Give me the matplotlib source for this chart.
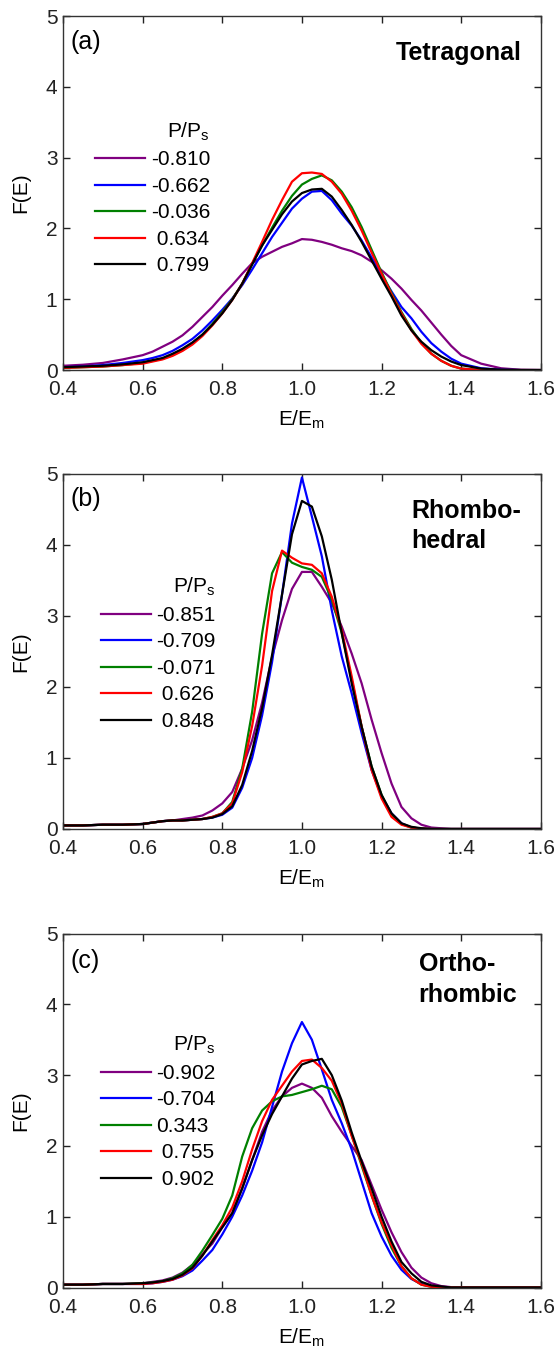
import matplotlib
matplotlib.use("Agg")
import matplotlib.pyplot as plt

plt.rcParams['font.family'] = ['Liberation Sans', 'DejaVu Sans']
plt.rcParams['mathtext.default'] = 'regular'

# E/Em grid shared by all curves
E = [0.40, 0.45, 0.50, 0.55, 0.60, 0.625, 0.65, 0.675, 0.70, 0.725, 0.75, 0.775,
     0.80, 0.825, 0.85, 0.875, 0.90, 0.925, 0.95, 0.975, 1.00, 1.025, 1.05, 1.075,
     1.10, 1.125, 1.15, 1.175, 1.20, 1.225, 1.25, 1.275, 1.30, 1.325, 1.35, 1.375,
     1.40, 1.45, 1.50, 1.55, 1.60]

# (a) tetragonal
purple_a = [0.06, 0.075, 0.10, 0.15, 0.21, 0.26, 0.33, 0.40, 0.49, 0.61, 0.75, 0.89,
            1.05, 1.20, 1.36, 1.51, 1.60, 1.67, 1.74, 1.79, 1.85, 1.84, 1.81, 1.77,
            1.72, 1.68, 1.62, 1.53, 1.41, 1.29, 1.15, 0.99, 0.84, 0.67, 0.50, 0.34,
            0.21, 0.09, 0.025, 0.004, 0.0]
blue_a = [0.04, 0.05, 0.07, 0.10, 0.14, 0.17, 0.21, 0.27, 0.35, 0.44, 0.56, 0.70,
          0.85, 1.01, 1.20, 1.42, 1.65, 1.88, 2.08, 2.28, 2.42, 2.52, 2.53, 2.40,
          2.21, 2.04, 1.83, 1.59, 1.34, 1.11, 0.89, 0.73, 0.54, 0.38, 0.26, 0.16,
          0.09, 0.025, 0.005, 0.0, 0.0]
green_a = [0.03, 0.04, 0.05, 0.07, 0.10, 0.13, 0.16, 0.21, 0.28, 0.38, 0.50, 0.65,
           0.82, 1.00, 1.22, 1.50, 1.76, 2.01, 2.25, 2.46, 2.62, 2.70, 2.75, 2.68,
           2.52, 2.30, 2.02, 1.70, 1.38, 1.09, 0.82, 0.58, 0.38, 0.23, 0.13, 0.06,
           0.02, 0.0, 0.0, 0.0, 0.0]
red_a = [0.03, 0.04, 0.05, 0.07, 0.09, 0.12, 0.15, 0.20, 0.27, 0.36, 0.48, 0.63,
         0.80, 0.99, 1.22, 1.51, 1.81, 2.12, 2.40, 2.66, 2.78, 2.79, 2.77, 2.66,
         2.49, 2.25, 1.97, 1.66, 1.36, 1.07, 0.80, 0.56, 0.37, 0.23, 0.13, 0.06,
         0.02, 0.0, 0.0, 0.0, 0.0]
black_a = [0.04, 0.05, 0.06, 0.08, 0.11, 0.14, 0.17, 0.23, 0.30, 0.39, 0.50, 0.64,
           0.80, 0.99, 1.22, 1.49, 1.76, 1.98, 2.20, 2.38, 2.50, 2.55, 2.56, 2.45,
           2.26, 2.05, 1.81, 1.55, 1.29, 1.04, 0.77, 0.56, 0.40, 0.28, 0.19, 0.12,
           0.07, 0.02, 0.005, 0.0, 0.0]
labels_a = ['-0.810', '-0.662', '-0.036', ' 0.634', ' 0.799']

# (b) rhombohedral
purple_b = [0.05, 0.05, 0.06, 0.06, 0.07, 0.09, 0.11, 0.12, 0.14, 0.16, 0.19, 0.26,
            0.36, 0.52, 0.85, 1.25, 1.78, 2.42, 2.94, 3.38, 3.62, 3.62, 3.41, 3.18,
            2.85, 2.47, 2.05, 1.54, 1.07, 0.64, 0.31, 0.15, 0.06, 0.02, 0.01, 0.0,
            0.0, 0.0, 0.0, 0.0, 0.0]
blue_b = [0.05, 0.05, 0.06, 0.06, 0.07, 0.09, 0.11, 0.12, 0.12, 0.13, 0.14, 0.16,
          0.20, 0.30, 0.58, 1.00, 1.60, 2.35, 3.30, 4.30, 4.95, 4.40, 3.84, 3.08,
          2.43, 1.91, 1.35, 0.83, 0.46, 0.22, 0.08, 0.02, 0.005, 0.0, 0.0, 0.0,
          0.0, 0.0, 0.0, 0.0, 0.0]
green_b = [0.05, 0.05, 0.06, 0.06, 0.07, 0.09, 0.11, 0.12, 0.12, 0.13, 0.14, 0.17,
           0.22, 0.38, 0.85, 1.65, 2.75, 3.60, 3.90, 3.75, 3.69, 3.65, 3.55, 3.23,
           2.76, 2.10, 1.44, 0.88, 0.48, 0.20, 0.07, 0.02, 0.005, 0.0, 0.0, 0.0,
           0.0, 0.0, 0.0, 0.0, 0.0]
red_b = [0.05, 0.05, 0.06, 0.06, 0.07, 0.09, 0.11, 0.12, 0.12, 0.13, 0.14, 0.17,
         0.22, 0.36, 0.80, 1.45, 2.30, 3.35, 3.92, 3.82, 3.74, 3.72, 3.60, 3.27,
         2.80, 2.15, 1.44, 0.83, 0.43, 0.17, 0.06, 0.02, 0.005, 0.0, 0.0, 0.0,
         0.0, 0.0, 0.0, 0.0, 0.0]
black_b = [0.05, 0.05, 0.06, 0.06, 0.07, 0.09, 0.11, 0.12, 0.12, 0.13, 0.14, 0.16,
           0.21, 0.32, 0.62, 1.10, 1.70, 2.45, 3.30, 4.15, 4.62, 4.54, 4.12, 3.51,
           2.76, 2.05, 1.44, 0.88, 0.48, 0.22, 0.08, 0.03, 0.01, 0.0, 0.0, 0.0,
           0.0, 0.0, 0.0, 0.0, 0.0]
labels_b = ['-0.851', '-0.709', '-0.071', ' 0.626', ' 0.848']

# (c) orthorhombic
purple_c = [0.04, 0.04, 0.05, 0.05, 0.06, 0.08, 0.10, 0.14, 0.21, 0.32, 0.47, 0.62,
            0.85, 1.05, 1.40, 1.80, 2.20, 2.50, 2.70, 2.82, 2.88, 2.82, 2.68, 2.42,
            2.20, 2.00, 1.80, 1.45, 1.10, 0.78, 0.50, 0.28, 0.14, 0.06, 0.02, 0.005,
            0.0, 0.0, 0.0, 0.0, 0.0]
blue_c = [0.04, 0.04, 0.05, 0.05, 0.05, 0.06, 0.08, 0.11, 0.16, 0.24, 0.38, 0.53,
          0.75, 1.00, 1.30, 1.65, 2.05, 2.55, 3.05, 3.45, 3.75, 3.50, 3.08, 2.65,
          2.32, 1.95, 1.50, 1.05, 0.72, 0.45, 0.25, 0.12, 0.05, 0.02, 0.005, 0.0,
          0.0, 0.0, 0.0, 0.0, 0.0]
green_c = [0.04, 0.04, 0.05, 0.05, 0.06, 0.07, 0.09, 0.13, 0.20, 0.32, 0.52, 0.74,
           0.97, 1.30, 1.85, 2.25, 2.50, 2.63, 2.70, 2.72, 2.76, 2.80, 2.85, 2.80,
           2.55, 2.15, 1.72, 1.30, 0.90, 0.56, 0.30, 0.13, 0.04, 0.01, 0.0, 0.0,
           0.0, 0.0, 0.0, 0.0, 0.0]
red_c = [0.04, 0.04, 0.05, 0.05, 0.05, 0.06, 0.08, 0.11, 0.17, 0.27, 0.45, 0.67,
         0.88, 1.13, 1.50, 1.95, 2.35, 2.65, 2.85, 3.05, 3.20, 3.22, 3.10, 2.92,
         2.60, 2.14, 1.75, 1.30, 0.92, 0.60, 0.30, 0.13, 0.04, 0.01, 0.0, 0.0,
         0.0, 0.0, 0.0, 0.0, 0.0]
black_c = [0.04, 0.04, 0.05, 0.05, 0.06, 0.07, 0.09, 0.12, 0.18, 0.28, 0.45, 0.65,
           0.85, 1.05, 1.40, 1.80, 2.15, 2.45, 2.70, 2.95, 3.15, 3.20, 3.23, 3.00,
           2.64, 2.19, 1.78, 1.40, 1.00, 0.65, 0.36, 0.20, 0.08, 0.03, 0.015, 0.0,
           0.0, 0.0, 0.0, 0.0, 0.0]
labels_c = ['-0.902', '-0.704', '0.343', ' 0.755', ' 0.902']

colors = ['#800080', '#0000ff', '#008000', '#ff0000', '#000000']
xticks = [0.4, 0.6, 0.8, 1.0, 1.2, 1.4, 1.6]
yticks = [0, 1, 2, 3, 4, 5]

panels = [
    dict(tag='(a)', name='Tetragonal', curves=[purple_a, blue_a, green_a, red_a, black_a],
         labels=labels_a, rect=[0.1135, 0.7261, 0.861, 0.2620],
         name_xy=(0.959, 0.930), name_ha='right', leg_xy=(0.068, 0.705), tag_y=0.962),
    dict(tag='(b)', name='Rhombo-\nhedral', curves=[purple_b, blue_b, green_b, red_b, black_b],
         labels=labels_b, rect=[0.1135, 0.3864, 0.861, 0.2628],
         name_xy=(0.729, 0.930), name_ha='left', leg_xy=(0.079, 0.712), tag_y=0.962),
    dict(tag='(c)', name='Ortho-\nrhombic', curves=[purple_c, blue_c, green_c, red_c, black_c],
         labels=labels_c, rect=[0.1135, 0.0470, 0.861, 0.2620],
         name_xy=(0.744, 0.948), name_ha='left', leg_xy=(0.079, 0.716), tag_y=0.957),
]

fig = plt.figure(figsize=(5.55, 13.51), dpi=100)

for p in panels:
    ax = fig.add_axes(p['rect'])
    handles = []
    for ys, c in zip(p['curves'], colors):
        h, = ax.plot(E, ys, color=c, lw=1.6)
        handles.append(h)

    ax.set_xlim(0.4, 1.6)
    ax.set_ylim(0, 5)
    ax.set_xticks(xticks)
    ax.set_xticklabels(['%.1f' % t for t in xticks])
    ax.set_yticks(yticks)
    ax.tick_params(direction='in', top=True, right=True, length=5, width=1,
                   labelsize=15, colors='#222222')
    ax.tick_params(axis='x', pad=7.5)
    ax.tick_params(axis='y', pad=4)
    for s in ax.spines.values():
        s.set_linewidth(1.0)
        s.set_color('#333333')

    ax.set_xlabel(r'E/E$_\mathregular{m}$', fontsize=15, labelpad=7)
    ax.set_ylabel('F(E)', fontsize=15, labelpad=11)

    ax.text(0.016, p['tag_y'], p['tag'], transform=ax.transAxes, fontsize=18,
            va='top', ha='left')
    ax.text(p['name_xy'][0], p['name_xy'][1], p['name'], transform=ax.transAxes,
            fontsize=18, fontweight='bold', va='top', ha=p['name_ha'],
            linespacing=1.35)

    ax.legend(handles, p['labels'], title=r'P/P$_\mathregular{s}$',
              loc='upper left', bbox_to_anchor=p['leg_xy'], frameon=False,
              fontsize=15, title_fontsize=15, handlelength=2.4,
              handletextpad=0.25, labelspacing=0.36, borderpad=0,
              borderaxespad=0, alignment='right')

fig.savefig('out.png', dpi=100)
